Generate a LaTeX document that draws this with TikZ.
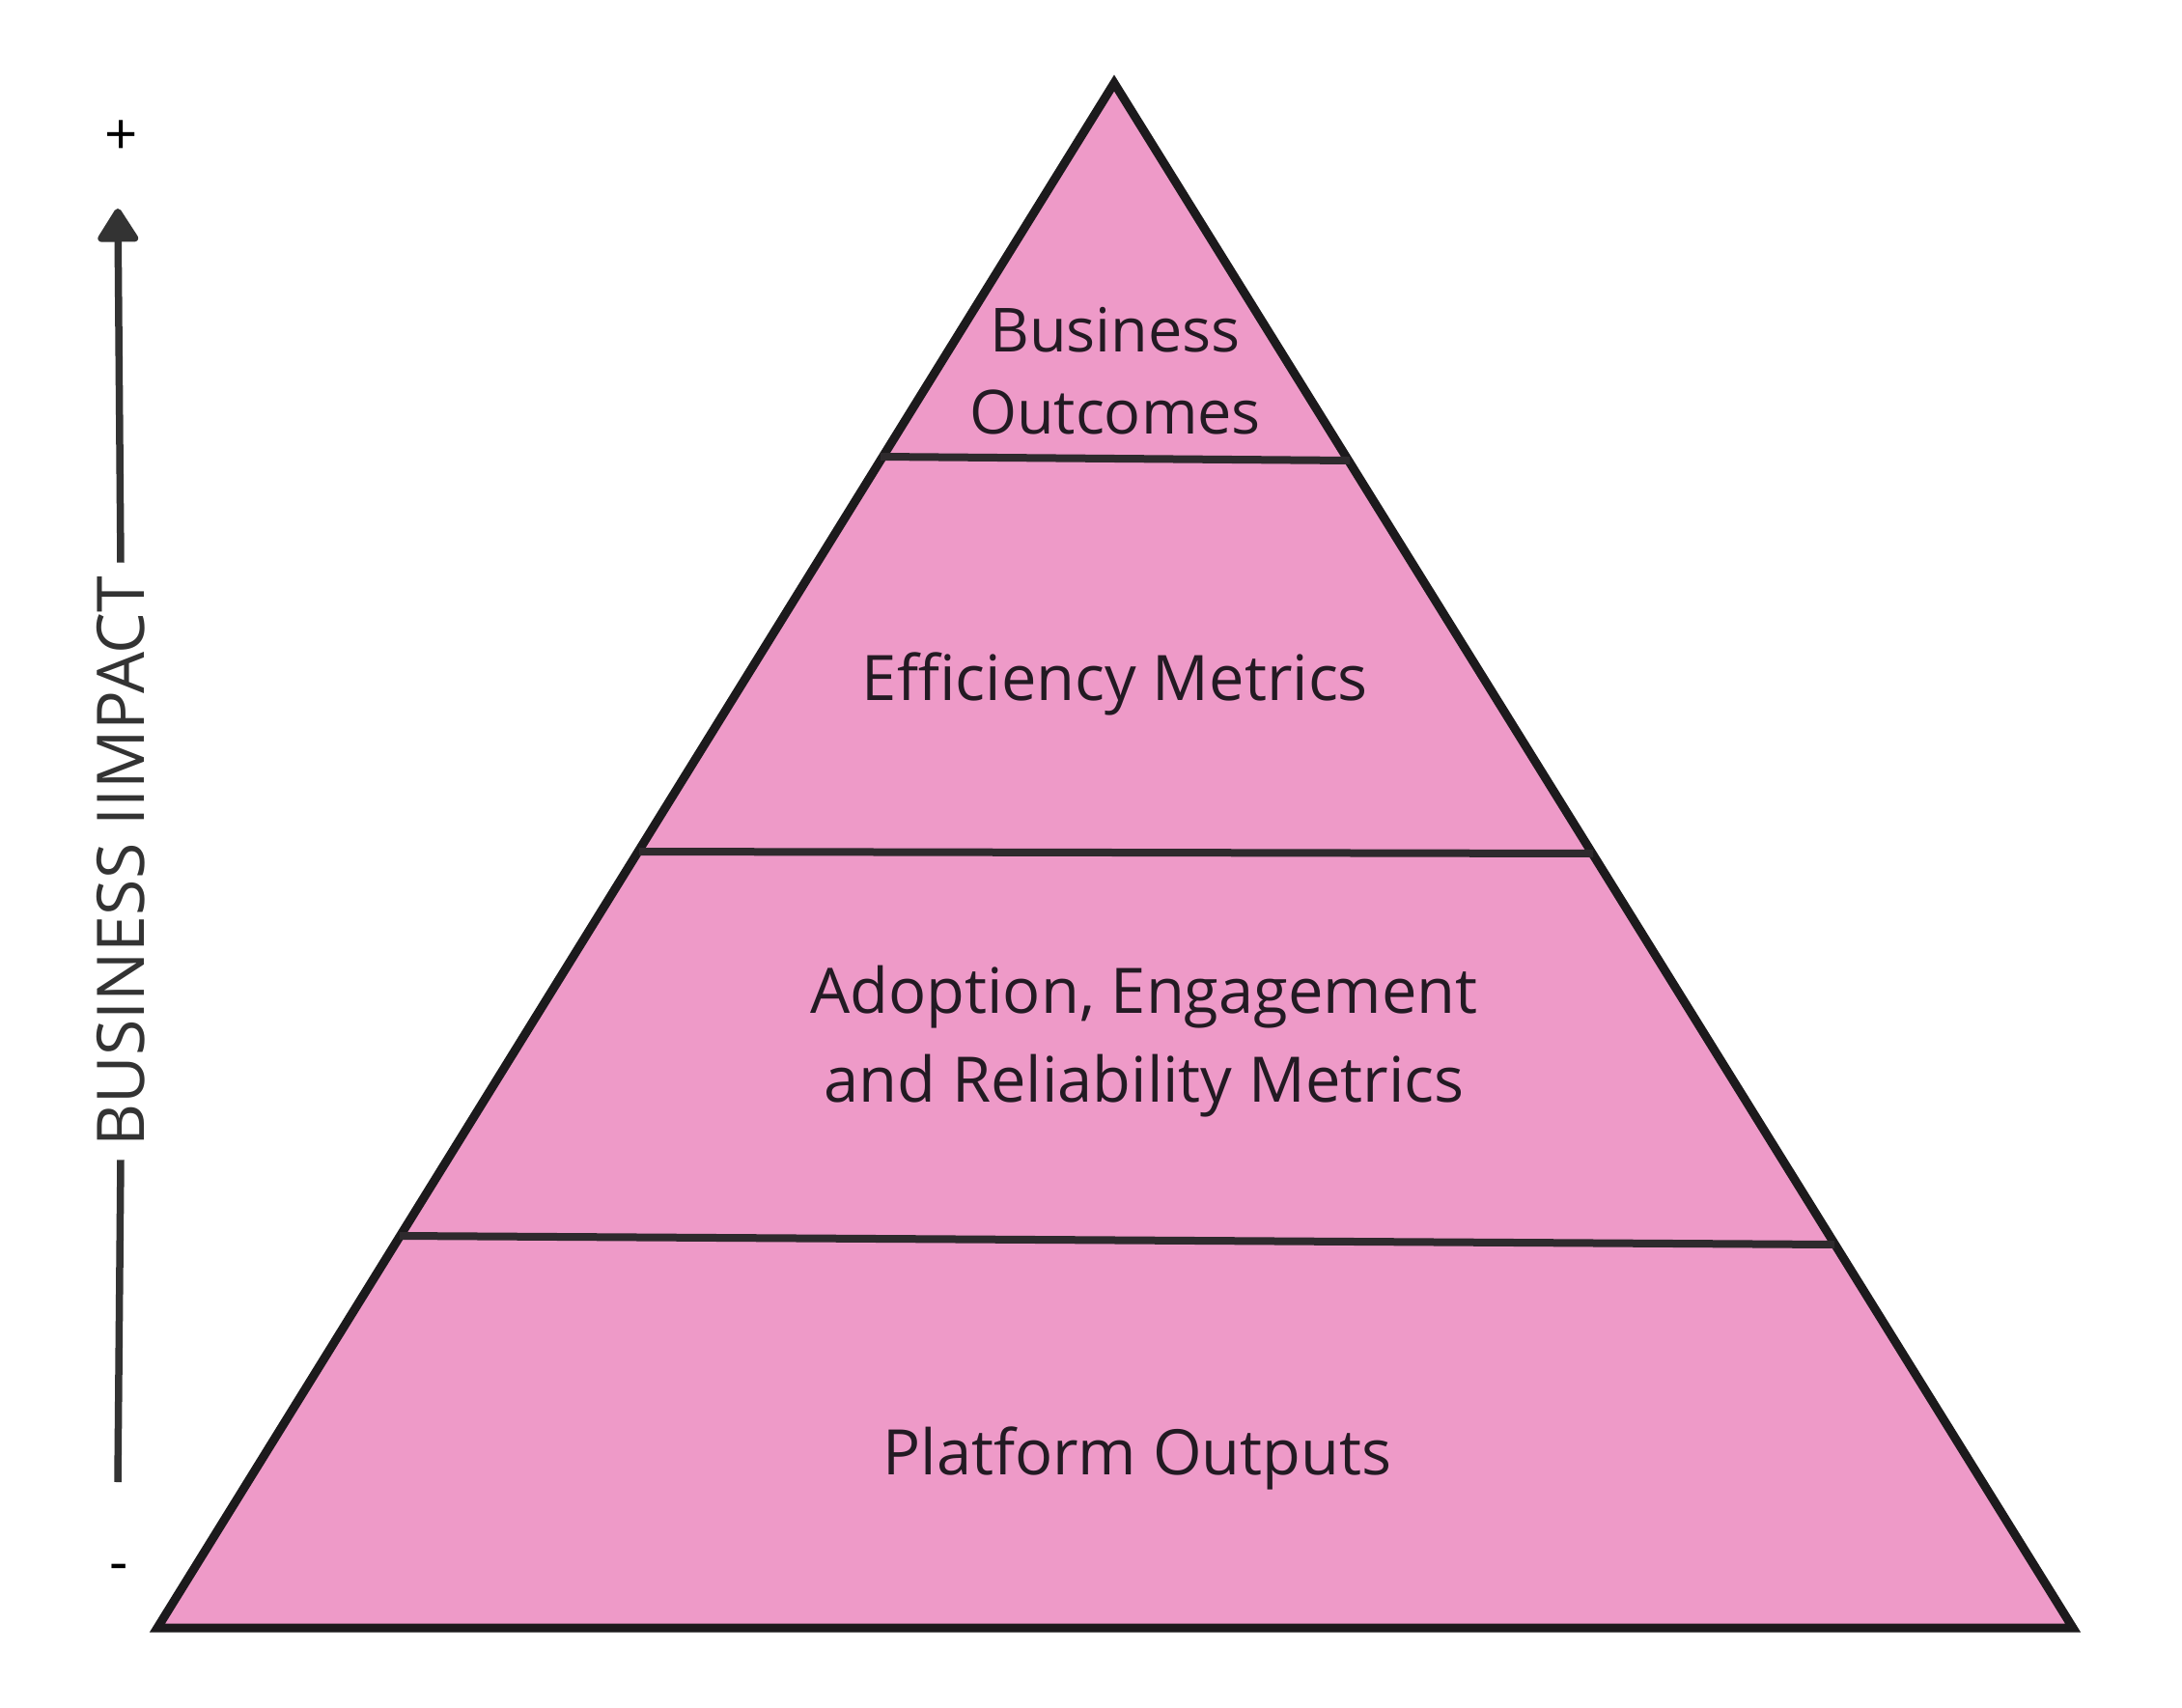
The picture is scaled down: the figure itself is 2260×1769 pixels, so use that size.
\documentclass[tikz,border=0pt]{standalone}
\usepackage{fontspec}
\setmainfont{Open Sans}
\usetikzlibrary{arrows.meta}
\definecolor{pyrpink}{HTML}{EE9AC8}
\definecolor{pyredge}{HTML}{1C1A1C}
\definecolor{divline}{HTML}{2E2A2D}
\definecolor{axisgray}{HTML}{333333}
\definecolor{labeltext}{HTML}{231A23}
\tikzset{
  tierlabel/.style={font=\fontsize{65}{88}\selectfont, text=labeltext, align=center, inner sep=0pt},
  divider/.style={draw=divline, line width=8pt, line cap=butt},
  axisline/.style={draw=axisgray, line width=7.5pt},
  signlabel/.style={font=\fontsize{60}{70}\selectfont, text=black, inner sep=0pt},
}
\begin{document}
\begin{tikzpicture}[x=1pt,y=-1pt]
\useasboundingbox (0,0) rectangle (2260,1769);
% pyramid
\coordinate (apex) at (1154,86);
\coordinate (bl) at (163,1686);
\coordinate (br) at (2147,1686);
\draw[fill=pyrpink, draw=pyredge, line width=9pt, line join=miter] (apex) -- (bl) -- (br) -- cycle;
% dividers
\coordinate (d1l) at (912,473);  \coordinate (d1r) at (1398,477);
\coordinate (d2l) at (662,882);  \coordinate (d2r) at (1650,884);
\coordinate (d3l) at (414,1280); \coordinate (d3r) at (1900,1289);
\draw[divider] (d1l) -- (d1r);
\draw[divider] (d2l) -- (d2r);
\draw[divider] (d3l) -- (d3r);
% tier labels
\node[tierlabel, font=\fontsize{63}{85}\selectfont] (t1) at (1155,384) {Business\\Outcomes};
\node[tierlabel] (t2) at (1155,708) {Efficiency Metrics};
\node[tierlabel, font=\fontsize{65}{92}\selectfont] (t3) at (1185,1079) {Adoption, Engagement\\and Reliability Metrics};
\node[tierlabel] (t4) at (1178,1510) {Platform Outputs};
% axis
\node[font=\fontsize{68}{76}\selectfont, text=axisgray, rotate=90, inner xsep=14pt, inner ysep=0pt] (axis) at (125,892) {BUSINESS IIMPACT};
\coordinate (axbot) at (122,1535);
\coordinate (axtop) at (122,216);
\draw[axisline] (axbot) -- (axis.west);
\draw[axisline, -{Triangle[width=46pt,length=38pt,round]}] (axis.east) -- (axtop);
\node[signlabel] (plus) at (126,143) {+};
\node[signlabel] (minus) at (123,1629) {-};
\end{tikzpicture}
\end{document}
